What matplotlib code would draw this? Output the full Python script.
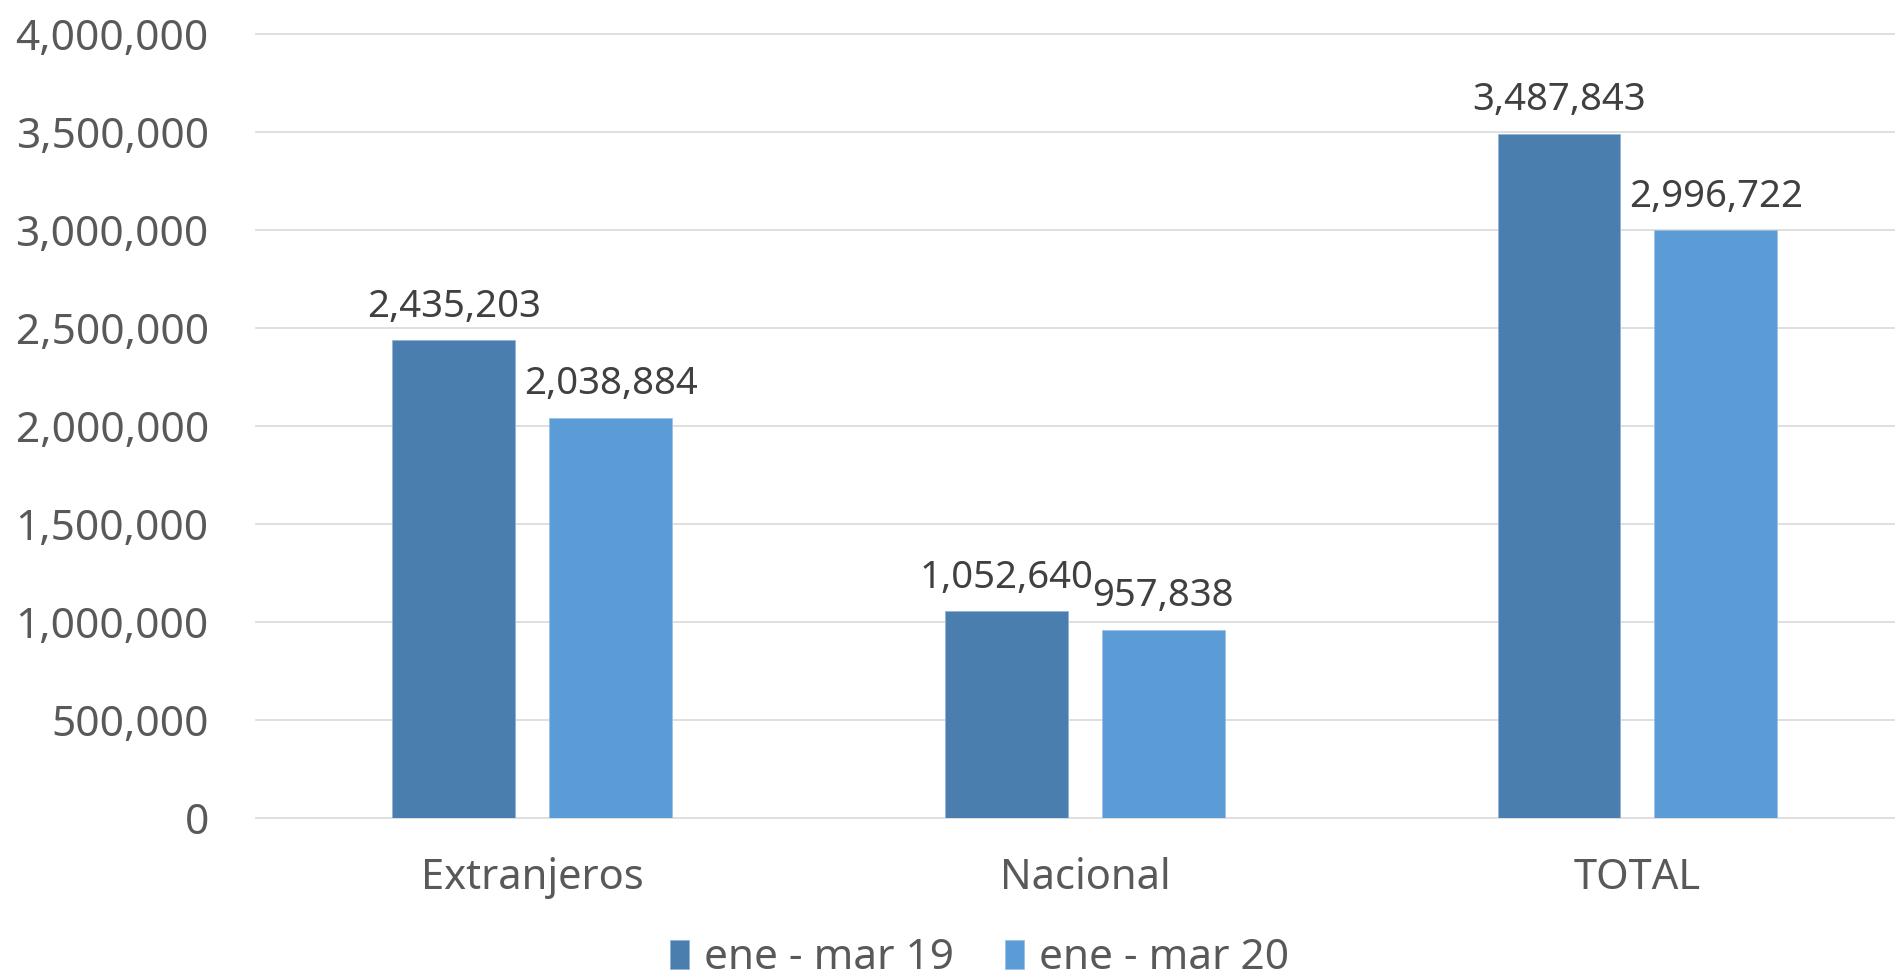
import matplotlib
matplotlib.use("Agg")
import matplotlib.pyplot as plt
import numpy as np
from matplotlib.ticker import FuncFormatter

categories = ["Extranjeros", "Nacional", "TOTAL"]
series_names = ["ene - mar 19", "ene - mar 20"]
values_19 = [2435203, 1052640, 3487843]
values_20 = [2038884, 957838, 2996722]
y_ticks = [0, 500000, 1000000, 1500000, 2000000, 2500000, 3000000, 3500000, 4000000]

plt.rcParams['font.family'] = ['Noto Sans', 'DejaVu Sans']

col19 = "#4A7EAF"
col20 = "#5B9BD6"

fig = plt.figure(figsize=(18.95, 9.77), dpi=100)
ax = fig.add_axes([256/1895, (977-817.7)/977, 1 - 256/1895, (817.7-33.7)/977])

x = np.arange(len(categories))
w = 0.2225
off = 0.142
b1 = ax.bar(x - off, values_19, w, color=col19, label=series_names[0], zorder=3,
            edgecolor="#8FB4DA", linewidth=0.6)
b2 = ax.bar(x + off, values_20, w, color=col20, label=series_names[1], zorder=3,
            edgecolor="#9CC2E8", linewidth=0.6)

for bars, vals in ((b1, values_19), (b2, values_20)):
    for r, v in zip(bars, vals):
        ax.annotate(f"{v:,}", (r.get_x() + r.get_width()/2, r.get_height()),
                    xytext=(0, 17), textcoords="offset points",
                    ha="center", va="baseline", fontsize=27.6, color="#404040")

ax.set_xlim(-0.5, 2.466)
ax.set_ylim(0, 4000000)
ax.set_yticks(y_ticks)
ax.yaxis.set_major_formatter(FuncFormatter(lambda v, p: f"{int(v):,}"))
ax.set_xticks(x)
ax.set_xticklabels(categories)
ax.grid(axis="y", color="#D9D9D9", linewidth=1.2, zorder=0)
for gl in ax.get_ygridlines():
    gl.set_clip_on(False)
for s in ax.spines.values():
    s.set_visible(False)
ax.tick_params(axis="both", length=0, colors="#595959")
ax.tick_params(axis="y", pad=34, labelsize=30.5)
ax.tick_params(axis="x", pad=28, labelsize=30)

leg = fig.legend(handles=[b1, b2], labels=series_names, loc="center",
                 bbox_to_anchor=(0.517, 0.019), ncol=2, frameon=False,
                 fontsize=30.5, handlelength=0.45, handleheight=0.65,
                 handletextpad=0.35, columnspacing=1.2, borderaxespad=0)
for t in leg.get_texts():
    t.set_color("#595959")

fig.savefig("out.png", dpi=100)
